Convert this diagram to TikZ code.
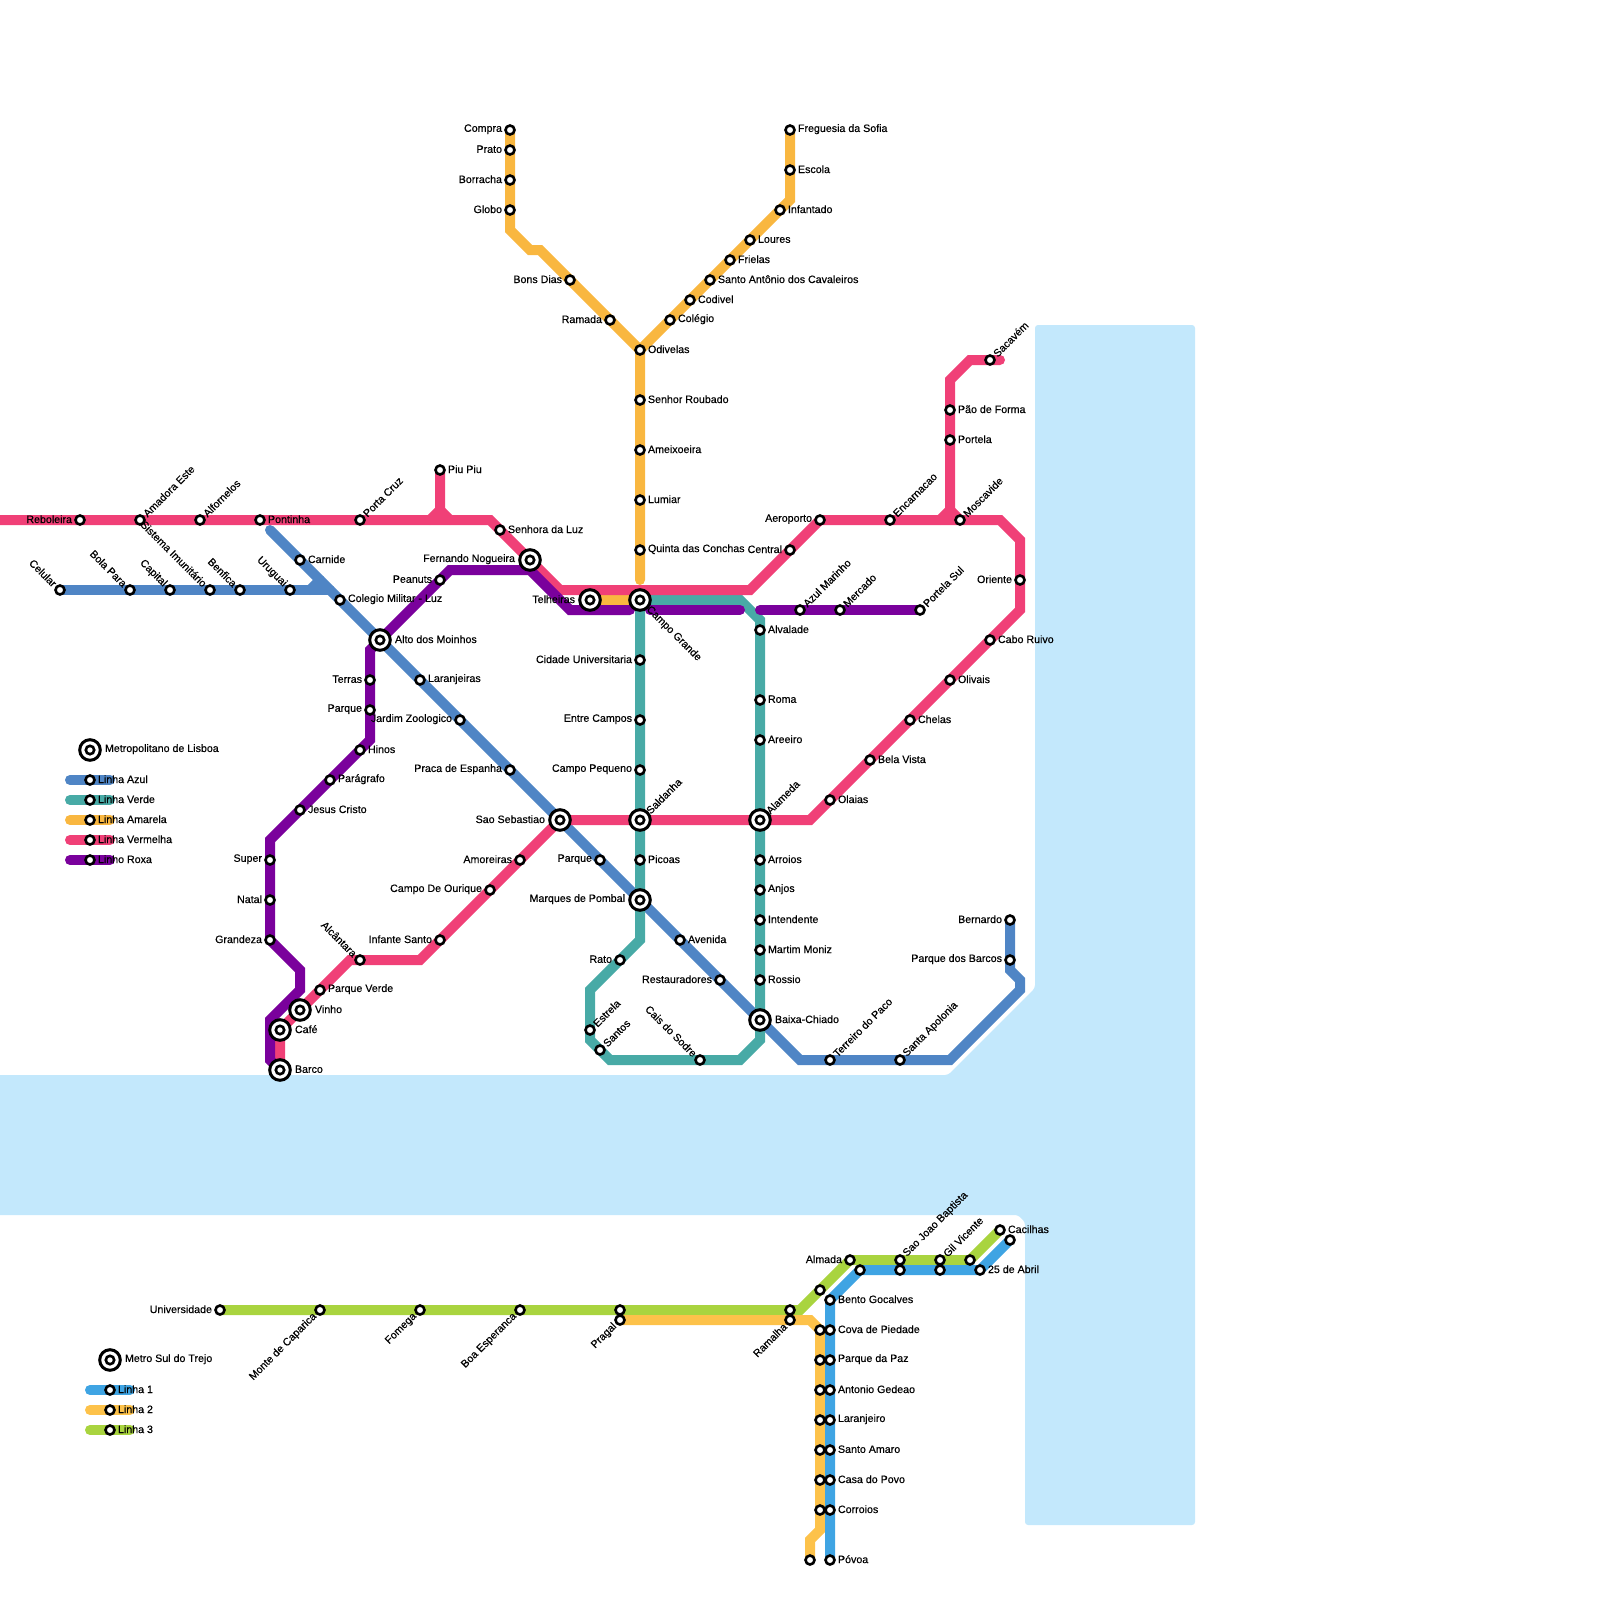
\documentclass[tikz,border=0pt]{standalone}
\usepackage{fontspec}
\setmainfont[FakeBold=0.4]{Liberation Sans}
\definecolor{water}{HTML}{C3E8FC}
\definecolor{azul}{HTML}{4F85C5}
\definecolor{verde}{HTML}{48AAA6}
\definecolor{amarela}{HTML}{F9B740}
\definecolor{vermelha}{HTML}{F04077}
\definecolor{roxa}{HTML}{7A019C}
\definecolor{suli}{HTML}{3FA4E3}
\definecolor{sulii}{HTML}{FDC24A}
\definecolor{suliii}{HTML}{A9D43F}
\pgfdeclarelayer{bg}
\pgfsetlayers{bg,main}
\tikzset{
  stn/.style={circle,draw=black,fill=white,line width=1.3pt,minimum size=4.5pt,inner sep=0pt,outer sep=0pt},
  xch/.style={circle,draw=black,fill=white,line width=1.5pt,minimum size=10.3pt,inner sep=0pt,outer sep=0pt},
  xin/.style={circle,draw=black,fill=white,line width=1.3pt,minimum size=4.2pt,inner sep=0pt,outer sep=0pt},
  txt/.style={inner sep=0pt,outer sep=0pt,font=\fontsize{5.33}{6}\selectfont,text=black},
  tR/.style={txt,anchor=west},
  tL/.style={txt,anchor=east},
  tUR/.style={txt,anchor=west,rotate=45},
  tUL/.style={txt,anchor=east,rotate=-45},
  tDR/.style={txt,anchor=west,rotate=-45},
  tDL/.style={txt,anchor=east,rotate=45},
  rail/.style={line width=5pt,line cap=round,line join=miter,miter limit=10},
}
\newcommand{\st}[3]{\node[stn] (#1) at (#2,#3) {};}
\newcommand{\sR}[4]{\st{#1}{#2}{#3}\node[tR] (#1t) at ([shift={(8,-0.8)}]#1.center) {#4};}
\newcommand{\sL}[4]{\st{#1}{#2}{#3}\node[tL] (#1t) at ([shift={(-8,-0.8)}]#1.center) {#4};}
\newcommand{\sUR}[4]{\st{#1}{#2}{#3}\node[tUR] (#1t) at ([shift={(5,-5)}]#1.center) {#4};}
\newcommand{\sUL}[4]{\st{#1}{#2}{#3}\node[tUL] (#1t) at ([shift={(-5,-5)}]#1.center) {#4};}
\newcommand{\sDL}[4]{\st{#1}{#2}{#3}\node[tDL] (#1t) at ([shift={(-5,5)}]#1.center) {#4};}
\newcommand{\xc}[3]{\node[xch] (#1) at (#2,#3) {};\node[xin] (#1i) at (#2,#3) {};}
\newcommand{\xR}[4]{\xc{#1}{#2}{#3}\node[tR] (#1t) at ([shift={(15,-0.8)}]#1.center) {#4};}
\newcommand{\xL}[4]{\xc{#1}{#2}{#3}\node[tL] (#1t) at ([shift={(-15,-0.8)}]#1.center) {#4};}
\newcommand{\xUR}[4]{\xc{#1}{#2}{#3}\node[tUR] (#1t) at ([shift={(8,-8)}]#1.center) {#4};}
\newcommand{\xDR}[4]{\xc{#1}{#2}{#3}\node[tDR] (#1t) at ([shift={(8,8)}]#1.center) {#4};}
\begin{document}
\begin{tikzpicture}[x=0.5pt,y=-0.5pt]
\useasboundingbox (0,0) rectangle (1600,1600);
% corners
\coordinate (w0) at (-10,520);
\coordinate (r1) at (490,520); \coordinate (r2) at (560,590); \coordinate (r3) at (750,590);
\coordinate (r4) at (1000,520); \coordinate (r5) at (1020,540); \coordinate (r6) at (1020,610);
\coordinate (r7) at (810,820); \coordinate (r8) at (420,960); \coordinate (r9) at (350,960);
\coordinate (ra) at (440,510); \coordinate (rb) at (430,520); \coordinate (rc) at (450,520);
\coordinate (rd) at (1000,360); \coordinate (re) at (970,360); \coordinate (rf) at (950,380);
\coordinate (rg) at (950,510); \coordinate (rh) at (940,520); \coordinate (ri) at (960,520);
\coordinate (b1) at (270,530); \coordinate (b2) at (330,590); \coordinate (b3) at (310,590); \coordinate (b4) at (320,580);
\coordinate (b5) at (800,1060); \coordinate (b6) at (950,1060); \coordinate (b7) at (1020,990); \coordinate (b8) at (1020,980); \coordinate (b9) at (1010,970);
\coordinate (g1) at (740,600); \coordinate (g2) at (760,620); \coordinate (g3) at (760,1040); \coordinate (g4) at (740,1060);
\coordinate (g5) at (610,1060); \coordinate (g6) at (590,1040); \coordinate (g7) at (590,990); \coordinate (g8) at (640,940);
\coordinate (y1) at (510,230); \coordinate (y2) at (530,250); \coordinate (y3) at (540,250); \coordinate (y4) at (640,580);
\coordinate (y5) at (790,200);
\coordinate (p1) at (270,1060); \coordinate (p2) at (270,1020); \coordinate (p3) at (300,990); \coordinate (p4) at (300,970);
\coordinate (p5) at (270,840); \coordinate (p6) at (370,740); \coordinate (p7) at (370,650);
\coordinate (p8) at (450,570); \coordinate (p9) at (530,570); \coordinate (pa) at (570,610); \coordinate (pb) at (630,610);
\coordinate (pc) at (650,610); \coordinate (pd) at (740,610); \coordinate (pe) at (760,610);
\coordinate (l1) at (800,1310);
\coordinate (n1) at (810,1320); \coordinate (n2) at (820,1330); \coordinate (n3) at (820,1530); \coordinate (n4) at (810,1540);
\foreach \n/\yy in {ka/780,kb/800,kc/820,kd/840,ke/860}{\coordinate (\n0) at (70,\yy); \coordinate (\n1) at (110,\yy);}
\foreach \n/\yy in {kf/1390,kg/1410,kh/1430}{\coordinate (\n0) at (90,\yy); \coordinate (\n1) at (130,\yy);}
% stations: red
\sL{reboleira}{80}{520}{Reboleira}
\sUR{amadora}{140}{520}{Amadora Este}
\sUR{alfornelos}{200}{520}{Alfornelos}
\sR{pontinha}{260}{520}{Pontinha}
\sUR{portacruz}{360}{520}{Porta Cruz}
\sR{piupiu}{440}{470}{Piu Piu}
\sR{senhora}{500}{530}{Senhora da Luz}
\xL{fernando}{530}{560}{Fernando Nogueira}
\sL{central}{790}{550}{Central}
\sL{aeroporto}{820}{520}{Aeroporto}
\sUR{encarnacao}{890}{520}{Encarnacao}
\sUR{moscavide}{960}{520}{Moscavide}
\sUR{sacavem}{990}{360}{Sacavém}
\sR{paoforma}{950}{410}{Pão de Forma}
\sR{portela}{950}{440}{Portela}
\sL{oriente}{1020}{580}{Oriente}
\sR{caboruivo}{990}{640}{Cabo Ruivo}
\sR{olivais}{950}{680}{Olivais}
\sR{chelas}{910}{720}{Chelas}
\sR{belavista}{870}{760}{Bela Vista}
\sR{olaias}{830}{800}{Olaias}
\sL{amoreiras}{520}{860}{Amoreiras}
\sL{ourique}{490}{890}{Campo De Ourique}
\sL{infante}{440}{940}{Infante Santo}
\sUL{alcantara}{360}{960}{Alcântara}
\sR{pverde}{320}{990}{Parque Verde}
\xc{vinho}{300}{1010}\node[tR] (vinhot) at ([shift={(15,-0.8)}]vinho.center) {Vinho};
\xc{cafe}{280}{1030}\node[tR] (cafet) at ([shift={(15,-0.8)}]cafe.center) {Café};
\xc{barco}{280}{1070}\node[tR] (barcot) at ([shift={(15,-0.8)}]barco.center) {Barco};
% blue
\sUL{celular}{60}{590}{Celular}
\sUL{bolapara}{130}{590}{Bola Para}
\sUL{capital}{170}{590}{Capital}
\sUL{sistema}{210}{590}{Sistema Imunitário}
\sUL{benfica}{240}{590}{Benfica}
\sUL{uruguai}{290}{590}{Uruguai}
\sR{carnide}{300}{560}{Carnide}
\sR{colegio}{340}{600}{Colegio Militar - Luz}
\xR{alto}{380}{640}{Alto dos Moinhos}
\sR{laranjeiras}{420}{680}{Laranjeiras}
\sL{jardim}{460}{720}{Jardim Zoologico}
\sL{praca}{510}{770}{Praca de Espanha}
\xL{saoseb}{560}{820}{Sao Sebastiao}
\sL{parquea}{600}{860}{Parque}
\xL{marques}{640}{900}{Marques de Pombal}
\sR{avenida}{680}{940}{Avenida}
\sL{restaur}{720}{980}{Restauradores}
\xR{baixa}{760}{1020}{Baixa-Chiado}
\sUR{terreiro}{830}{1060}{Terreiro do Paco}
\sUR{apolonia}{900}{1060}{Santa Apolonia}
\sL{pbarcos}{1010}{960}{Parque dos Barcos}
\sL{bernardo}{1010}{920}{Bernardo}
% green
\xDR{campo}{640}{600}{Campo Grande}
\sR{alvalade}{760}{630}{Alvalade}
\sR{roma}{760}{700}{Roma}
\sR{areeiro}{760}{740}{Areeiro}
\xUR{alameda}{760}{820}{Alameda}
\sR{arroios}{760}{860}{Arroios}
\sR{anjos}{760}{890}{Anjos}
\sR{intendente}{760}{920}{Intendente}
\sR{martim}{760}{950}{Martim Moniz}
\sR{rossio}{760}{980}{Rossio}
\sUL{cais}{700}{1060}{Cais do Sodre}
\sUR{santos}{600}{1050}{Santos}
\sUR{estrela}{590}{1030}{Estrela}
\sL{rato}{620}{960}{Rato}
\sR{picoas}{640}{860}{Picoas}
\xUR{saldanha}{640}{820}{Saldanha}
\sL{campop}{640}{770}{Campo Pequeno}
\sL{entre}{640}{720}{Entre Campos}
\sL{cidade}{640}{660}{Cidade Universitaria}
% yellow
\sL{compra}{510}{130}{Compra}
\sL{prato}{510}{150}{Prato}
\sL{borracha}{510}{180}{Borracha}
\sL{globo}{510}{210}{Globo}
\sL{bonsdias}{570}{280}{Bons Dias}
\sL{ramada}{610}{320}{Ramada}
\sR{odivelas}{640}{350}{Odivelas}
\sR{roubado}{640}{400}{Senhor Roubado}
\sR{ameixoeira}{640}{450}{Ameixoeira}
\sR{lumiar}{640}{500}{Lumiar}
\sR{quinta}{640}{550}{Quinta das Conchas}
\xL{telheiras}{590}{600}{Telheiras}
\sR{freguesia}{790}{130}{Freguesia da Sofia}
\sR{escola}{790}{170}{Escola}
\sR{infantado}{780}{210}{Infantado}
\sR{loures}{750}{240}{Loures}
\sR{frielas}{730}{260}{Frielas}
\sR{santoant}{710}{280}{Santo Antônio dos Cavaleiros}
\sR{codivel}{690}{300}{Codivel}
\sR{colegioy}{670}{320}{Colégio}
% purple
\sL{terras}{370}{680}{Terras}
\sL{parquep}{370}{710}{Parque}
\sR{hinos}{360}{750}{Hinos}
\sR{paragrafo}{330}{780}{Parágrafo}
\sR{jesus}{300}{810}{Jesus Cristo}
\sL{super}{270}{860}{Super}
\sL{natal}{270}{900}{Natal}
\sL{grandeza}{270}{940}{Grandeza}
\sL{peanuts}{440}{580}{Peanuts}
\sUR{azulm}{800}{610}{Azul Marinho}
\sUR{mercado}{840}{610}{Mercado}
\sUR{portelasul}{920}{610}{Portela Sul}
% south
\sL{univ}{220}{1310}{Universidade}
\sDL{monte}{320}{1310}{Monte de Caparica}
\sDL{fomega}{420}{1310}{Fomega}
\sDL{boaesp}{520}{1310}{Boa Esperanca}
\st{pragalg}{620}{1310}
\sDL{pragal}{620}{1320}{Pragal}
\st{ramalhag}{790}{1310}
\sDL{ramalha}{790}{1320}{Ramalha}
\st{sg1}{820}{1290}
\sL{almada}{850}{1260}{Almada}
\sUR{saojoao}{900}{1260}{Sao Joao Baptista}
\sUR{gil}{940}{1260}{Gil Vicente}
\st{sg2}{970}{1260}
\sR{cacilhas}{1000}{1230}{Cacilhas}
\st{sb1}{1010}{1240}
\sR{abril}{980}{1270}{25 de Abril}
\st{sb2}{940}{1270}
\st{sb3}{900}{1270}
\st{sb4}{860}{1270}
\sR{bento}{830}{1300}{Bento Gocalves}
\sR{cova}{830}{1330}{Cova de Piedade}
\sR{paz}{830}{1360}{Parque da Paz}
\sR{gedeao}{830}{1390}{Antonio Gedeao}
\sR{laranjeiro}{830}{1420}{Laranjeiro}
\sR{amaro}{830}{1450}{Santo Amaro}
\sR{povo}{830}{1480}{Casa do Povo}
\sR{corroios}{830}{1510}{Corroios}
\sR{povoa}{830}{1560}{Póvoa}
\st{sy1}{820}{1330}
\st{sy2}{820}{1360}
\st{sy3}{820}{1390}
\st{sy4}{820}{1420}
\st{sy5}{820}{1450}
\st{sy6}{820}{1480}
\st{sy7}{820}{1510}
\st{sy8}{810}{1560}
% legends
\xc{keya}{90}{750}\node[tR] (keyat) at ([shift={(15,-0.8)}]keya.center) {Metropolitano de Lisboa};
\sR{lka}{90}{780}{Linha Azul}
\sR{lkb}{90}{800}{Linha Verde}
\sR{lkc}{90}{820}{Linha Amarela}
\sR{lkd}{90}{840}{Linha Vermelha}
\sR{lke}{90}{860}{Linho Roxa}
\xc{keyb}{110}{1360}\node[tR] (keybt) at ([shift={(15,-0.8)}]keyb.center) {Metro Sul do Trejo};
\sR{lkf}{110}{1390}{Linha 1}
\sR{lkg}{110}{1410}{Linha 2}
\sR{lkh}{110}{1430}{Linha 3}
\begin{pgfonlayer}{bg}
\fill[water,rounded corners=1.5pt] (1035,325) -- (1195,325) -- (1195,1525) -- (1025,1525) -- (1025,1222) -- (1018,1215) -- (-10,1215) -- (-10,1075) -- (948,1075) -- (1035,988) -- cycle;
% legend rails
\draw[rail,azul] (ka0) -- (lka.center) -- (ka1);
\draw[rail,verde] (kb0) -- (lkb.center) -- (kb1);
\draw[rail,amarela] (kc0) -- (lkc.center) -- (kc1);
\draw[rail,vermelha] (kd0) -- (lkd.center) -- (kd1);
\draw[rail,roxa] (ke0) -- (lke.center) -- (ke1);
\draw[rail,suli] (kf0) -- (lkf.center) -- (kf1);
\draw[rail,sulii] (kg0) -- (lkg.center) -- (kg1);
\draw[rail,suliii] (kh0) -- (lkh.center) -- (kh1);
% azul
\draw[rail,azul] (celular.center) -- (bolapara.center) -- (capital.center) -- (sistema.center) -- (benfica.center) -- (uruguai.center) -- (b2);
\draw[rail,azul] (b3) -- (b4);
\draw[rail,azul] (b1) -- (carnide.center) -- (colegio.center) -- (alto.center) -- (laranjeiras.center) -- (jardim.center) -- (praca.center) -- (saoseb.center) -- (parquea.center) -- (marques.center) -- (avenida.center) -- (restaur.center) -- (baixa.center) -- (b5) -- (terreiro.center) -- (apolonia.center) -- (b6) -- (b7) -- (b8) -- (b9) -- (pbarcos.center) -- (bernardo.center);
% verde
\draw[rail,verde] (campo.center) -- (g1) -- (g2) -- (alvalade.center) -- (roma.center) -- (areeiro.center) -- (alameda.center) -- (arroios.center) -- (anjos.center) -- (intendente.center) -- (martim.center) -- (rossio.center) -- (baixa.center) -- (g3) -- (g4) -- (cais.center) -- (g5) -- (santos.center) -- (g6) -- (estrela.center) -- (g7) -- (rato.center) -- (g8) -- (marques.center) -- (picoas.center) -- (saldanha.center) -- (campop.center) -- (entre.center) -- (cidade.center) -- (campo.center);
% amarela
\draw[rail,amarela] (compra.center) -- (prato.center) -- (borracha.center) -- (globo.center) -- (y1) -- (y2) -- (y3) -- (bonsdias.center) -- (ramada.center) -- (odivelas.center) -- (roubado.center) -- (ameixoeira.center) -- (lumiar.center) -- (quinta.center) -- (y4);
\draw[rail,amarela] (telheiras.center) -- (campo.center);
\draw[rail,amarela] (odivelas.center) -- (colegioy.center) -- (codivel.center) -- (santoant.center) -- (frielas.center) -- (loures.center) -- (infantado.center) -- (y5) -- (escola.center) -- (freguesia.center);
% vermelha
\draw[rail,vermelha] (w0) -- (reboleira.center) -- (amadora.center) -- (alfornelos.center) -- (pontinha.center) -- (portacruz.center) -- (r1) -- (senhora.center) -- (fernando.center) -- (r2) -- (r3) -- (central.center) -- (aeroporto.center) -- (encarnacao.center) -- (moscavide.center) -- (r4) -- (r5) -- (oriente.center) -- (r6) -- (caboruivo.center) -- (olivais.center) -- (chelas.center) -- (belavista.center) -- (olaias.center) -- (r7) -- (alameda.center) -- (saldanha.center) -- (saoseb.center) -- (amoreiras.center) -- (ourique.center) -- (infante.center) -- (r8) -- (alcantara.center) -- (r9) -- (pverde.center) -- (vinho.center) -- (cafe.center) -- (barco.center);
\draw[rail,vermelha] (piupiu.center) -- (ra) -- (rb);
\draw[rail,vermelha] (ra) -- (rc);
\draw[rail,vermelha] (rd) -- (sacavem.center) -- (re) -- (rf) -- (paoforma.center) -- (portela.center) -- (rg) -- (rh);
\draw[rail,vermelha] (rg) -- (ri);
% roxa
\draw[rail,roxa] (barco.center) -- (p1) -- (p2) -- (p3) -- (p4) -- (grandeza.center) -- (natal.center) -- (super.center) -- (p5) -- (jesus.center) -- (paragrafo.center) -- (hinos.center) -- (p6) -- (parquep.center) -- (terras.center) -- (p7) -- (alto.center) -- (peanuts.center) -- (p8) -- (p9) -- (pa) -- (pb);
\draw[rail,roxa] (pc) -- (pd);
\draw[rail,roxa] (pe) -- (azulm.center) -- (mercado.center) -- (portelasul.center);
% south
\draw[rail,suliii] (univ.center) -- (monte.center) -- (fomega.center) -- (boaesp.center) -- (pragalg.center) -- (ramalhag.center) -- (l1) -- (sg1.center) -- (almada.center) -- (saojoao.center) -- (gil.center) -- (sg2.center) -- (cacilhas.center);
\draw[rail,sulii] (pragal.center) -- (ramalha.center) -- (n1) -- (n2) -- (sy2.center) -- (sy3.center) -- (sy4.center) -- (sy5.center) -- (sy6.center) -- (sy7.center) -- (n3) -- (n4) -- (sy8.center);
\draw[rail,suli] (povoa.center) -- (corroios.center) -- (povo.center) -- (amaro.center) -- (laranjeiro.center) -- (gedeao.center) -- (paz.center) -- (cova.center) -- (bento.center) -- (sb4.center) -- (sb3.center) -- (sb2.center) -- (abril.center) -- (sb1.center);
\end{pgfonlayer}
\end{tikzpicture}
\end{document}
